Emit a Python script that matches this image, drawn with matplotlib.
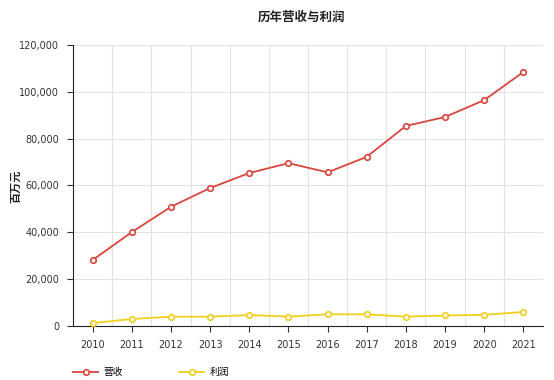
import matplotlib
matplotlib.use('Agg')
import matplotlib.pyplot as plt
import numpy as np

plt.rcParams['font.family'] = ['Noto Sans CJK SC', 'DejaVu Sans']

# ============================================================
# DATA (百万元)
# ============================================================
years = ["2010", "2011", "2012", "2013", "2014", "2015",
         "2016", "2017", "2018", "2019", "2020", "2021"]
revenue = [28200, 40100, 50900, 58900, 65300, 69500,
           65600, 72200, 85400, 89200, 96400, 108400]
profit = [1300, 3000, 4000, 4000, 4700, 4000,
          5000, 5000, 4000, 4500, 4800, 6000]

REV_COLOR = "#d9463e"
PROFIT_COLOR = "#f2cf1d"

fig = plt.figure(figsize=(5.54, 3.8), dpi=100)
ax = fig.add_axes([0.132, 0.142, 0.848, 0.740])

x = np.arange(len(years))
ax.plot(x, revenue, color=REV_COLOR, lw=1.3, marker='o', ms=4,
        mfc='white', mec=REV_COLOR, mew=1.2, label='营收', zorder=3)
ax.plot(x, profit, color=PROFIT_COLOR, lw=1.3, marker='o', ms=4,
        mfc='white', mec=PROFIT_COLOR, mew=1.2, label='利润', zorder=3)

ax.set_xlim(-0.5, len(years) - 0.5)
ax.set_ylim(0, 120000)
ax.set_yticks(np.arange(0, 120001, 20000))
ax.set_yticklabels([f"{v:,}" for v in range(0, 120001, 20000)],
                   fontsize=7, color='#333333', family='DejaVu Sans')
ax.set_xticks(x)
ax.set_xticklabels(years, fontsize=7, color='#333333', family='DejaVu Sans')
ax.tick_params(axis='both', length=4, width=0.8, color='#333333', pad=6)

# grid: horizontal at y ticks, vertical at category boundaries
for yv in range(20000, 120001, 20000):
    ax.axhline(yv, color='#e3e3e3', lw=0.8, zorder=0)
for xb in np.arange(0.5, len(years), 1.0):
    ax.axvline(xb, color='#e3e3e3', lw=0.8, zorder=0)

for side in ['top', 'right']:
    ax.spines[side].set_visible(False)
ax.spines['left'].set_color('#222222')
ax.spines['bottom'].set_color('#222222')

fig.text(0.028, 0.51, '百万元', rotation=90, ha='center', va='center',
         fontsize=8, fontweight='bold', color='#222222')
fig.text(0.545, 0.955, '历年营收与利润', ha='center', va='center',
         fontsize=9, fontweight='bold', color='#222222')

ax.legend(loc='center left', bbox_to_anchor=(0.0, -0.165), ncol=2,
          frameon=False, fontsize=7, columnspacing=5.8, handlelength=2.6,
          handletextpad=0.5, borderaxespad=0, borderpad=0)

plt.savefig('out.png', dpi=100)
